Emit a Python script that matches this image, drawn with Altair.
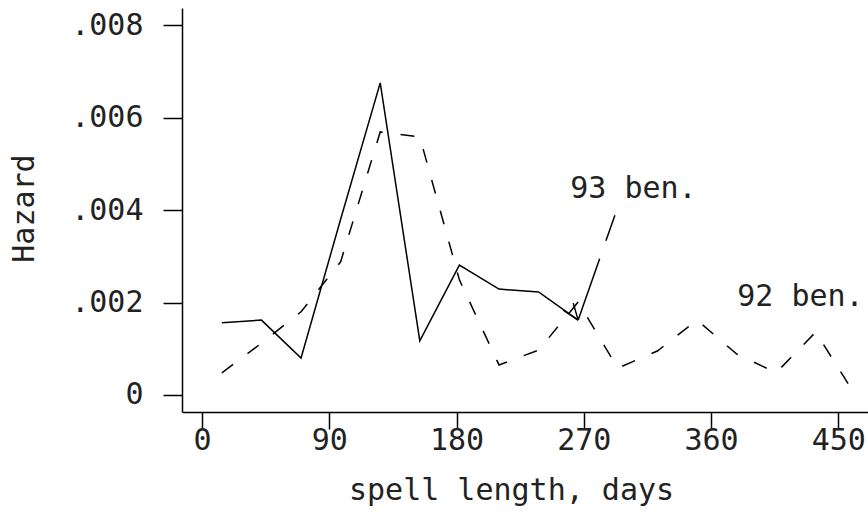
import altair as alt
import pandas as pd

# four-week interval midpoints (days)
days = [14, 42, 70, 98, 126, 154, 182, 210, 238, 266, 294, 322, 350, 378, 406, 434, 462]
hazard_93 = [0.00156, 0.00162, 0.00080, 0.00380, 0.00675, 0.00117, 0.00281, 0.00229, 0.00223, 0.00162]
hazard_92 = [0.00048, 0.00112, 0.00180, 0.00288, 0.00569, 0.00558, 0.00249, 0.00065, 0.00097,
             0.00201, 0.00058, 0.00095, 0.00162, 0.00089, 0.00048, 0.00136, 0.00000]

label_text = ["93 ben.", "92 ben."]
label_day = [260.4, 378.5]
label_hazard = [0.00445, 0.00212]

pointer_day = [266, 292]
pointer_hazard = [0.00162, 0.00389]

x_ticks = [0, 90, 180, 270, 360, 450]
y_ticks = [0, 0.002, 0.004, 0.006, 0.008]

FONT = "DejaVu Sans Mono"

df93 = pd.DataFrame({"day": days[:len(hazard_93)], "hazard": hazard_93})
df92 = pd.DataFrame({"day": days, "hazard": hazard_92})
dflab = pd.DataFrame({"day": label_day, "hazard": label_hazard, "text": label_text})
dfptr = pd.DataFrame({"day": pointer_day, "hazard": pointer_hazard, "order": [0, 1]})
dftip = dfptr.iloc[[0]]

xscale = alt.Scale(domain=[-14.2, 471], nice=False, zero=False)
yscale = alt.Scale(domain=[-0.000368, 0.00837], nice=False, zero=False)

xaxis = alt.Axis(values=x_ticks, title="spell length, days", grid=False,
                 tickSize=17, labelPadding=-4, labelFontSize=30, labelFont=FONT,
                 titleFont=FONT, titleFontSize=30, titleFontWeight="normal",
                 titleX=329, titleY=78, titleBaseline="middle", titleAnchor="start",
                 titleAlign="center", labelColor="#222", titleColor="#222")
yaxis = alt.Axis(values=y_ticks, title="Hazard", grid=False,
                 labelExpr="datum.value == 0 ? '0' : replace(format(datum.value, '.3f'), '0.', '.')",
                 tickSize=19, labelPadding=20, labelFontSize=30, labelFont=FONT,
                 titleFont=FONT, titleFontSize=30, titleFontWeight="normal",
                 titleX=-158, titleY=200, titleAngle=270, titleBaseline="middle",
                 titleAlign="center", titleAnchor="start",
                 labelColor="#222", titleColor="#222")

base_x = alt.X("day:Q", scale=xscale, axis=xaxis)
base_y = alt.Y("hazard:Q", scale=yscale, axis=yaxis)

line93 = alt.Chart(df93).mark_line(color="black", strokeWidth=1.5).encode(x=base_x, y=base_y)
line92 = alt.Chart(df92).mark_line(color="black", strokeWidth=1.5, strokeDash=[14, 18]).encode(
    x=alt.X("day:Q", scale=xscale), y=alt.Y("hazard:Q", scale=yscale))
pointer = alt.Chart(dfptr).mark_line(color="black", strokeWidth=1.5, strokeDash=[65, 19]).encode(
    x=alt.X("day:Q", scale=xscale), y=alt.Y("hazard:Q", scale=yscale), order="order:Q")
tip = alt.Chart(dftip).mark_point(shape="M0,0L-0.88,-0.59M0,0L-0.29,-1", size=1156,
                                  filled=False, color="black", strokeWidth=1.5, opacity=1).encode(
    x=alt.X("day:Q", scale=xscale), y=alt.Y("hazard:Q", scale=yscale))
labels = alt.Chart(dflab).mark_text(font=FONT, fontSize=30, align="left", baseline="middle",
                                    color="#222").encode(
    x=alt.X("day:Q", scale=xscale), y=alt.Y("hazard:Q", scale=yscale), text="text:N")

chart = alt.layer(line93, line92, pointer, tip, labels).properties(
    width=686, height=404,
    autosize=alt.AutoSizeParams(type="none"),
    padding={"left": 182, "top": 8, "right": 0, "bottom": 101},
    background="white",
).configure_view(stroke=None).configure_axis(
    domainColor="black", domainWidth=1.5, tickColor="black", tickWidth=1.5
)

chart.save("out.html", embed_options={"renderer": "svg", "actions": False})
